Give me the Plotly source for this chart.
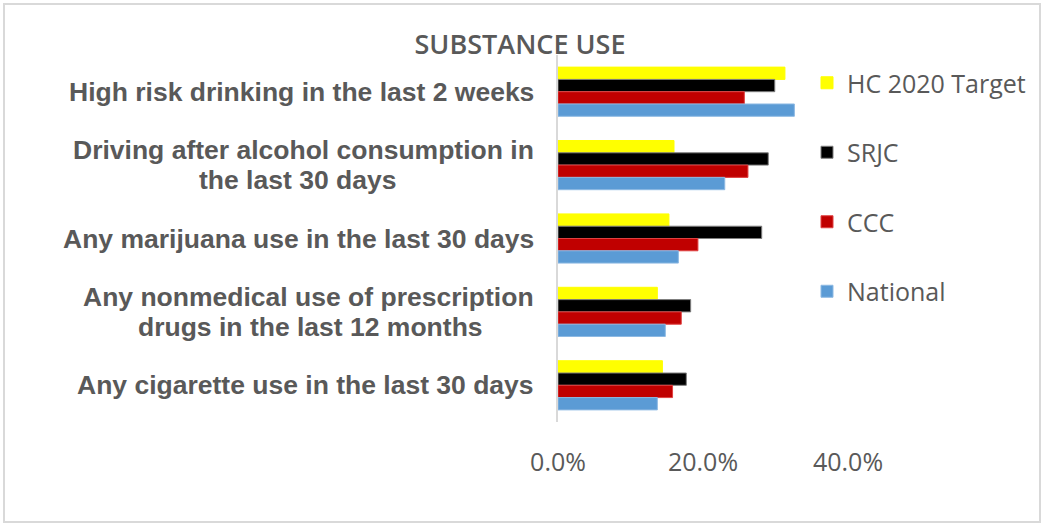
import plotly.graph_objects as go

# Survey categories, listed top to bottom
categories = [
    "High risk drinking in the last 2 weeks",
    "Driving after alcohol consumption in<br>the last 30 days",
    "Any marijuana use in the last 30 days",
    "Any nonmedical use of prescription<br>drugs in the last 12 months",
    "Any cigarette use in the last 30 days",
]

# Percent of students (as fractions)
hc2020_target = [0.313, 0.160, 0.153, 0.137, 0.144]
srjc = [0.299, 0.290, 0.281, 0.183, 0.177]
ccc = [0.257, 0.262, 0.193, 0.170, 0.158]
national = [0.326, 0.230, 0.166, 0.148, 0.137]

x_ticks = [0.0, 0.2, 0.4]
x_tick_labels = ["0.0%", "20.0%", "40.0%"]

series = [
    ("HC 2020 Target", hc2020_target, "#FFFF00", "#FFFF00"),
    ("SRJC", srjc, "#000000", "#7F7F7F"),
    ("CCC", ccc, "#C00000", "#E04040"),
    ("National", national, "#5B9BD5", "#8DB9E3"),
]

fig = go.Figure()
for name, vals, color, edge in series:
    fig.add_trace(go.Bar(
        y=categories, x=vals, name=name, orientation="h",
        marker=dict(color=color, line=dict(color=edge, width=1)),
        legendgroup=name,
    ))

gray = "#595959"
label_font = dict(family="Liberation Sans, Arial, sans-serif", size=26.5,
                  color=gray, weight="bold")
PLOT_LEFT, PLOT_W = 558, 290
LABEL_RIGHT = 536          # anchor for the right edge of category labels (px)
LINE_GAP = 30              # distance between lines of a wrapped label (px)
CHAR_W = 13.1              # average bold glyph width at this size (px)


def px_to_paper(px):
    return (px - PLOT_LEFT) / PLOT_W


# Category labels drawn as annotations so that wrapped lines are centered
# under each other and can use a tighter line spacing.
label_annotations = []
for c in categories:
    lines = c.split("<br>")
    n = len(lines)
    center = LABEL_RIGHT - 3 - CHAR_W * len(lines[0]) / 2
    for i, ln in enumerate(lines):
        label_annotations.append(dict(
            text=ln, xref="paper", yref="y",
            x=px_to_paper(LABEL_RIGHT) if i == 0 else px_to_paper(center),
            xanchor="right" if i == 0 else "center",
            y=c, yanchor="middle", yshift=LINE_GAP * ((n - 1) / 2 - i),
            showarrow=False, font=label_font))

fig.update_layout(
    width=1045, height=525,
    margin=dict(l=558, r=197, t=55, b=103),
    paper_bgcolor="white", plot_bgcolor="white",
    barmode="group", bargap=0.33, bargroupgap=0,
    title=dict(text="SUBSTANCE USE", x=520 / 1045, xanchor="center",
               y=1 - 45 / 525, yanchor="middle",
               font=dict(family="Open Sans, sans-serif", size=27,
                         color=gray, weight=600)),
    legend=dict(x=(807 - 558) / 290, xanchor="left", y=(422 - 60) / 367, yanchor="top",
                font=dict(family="Open Sans, sans-serif", size=25, color=gray),
                tracegroupgap=34, bgcolor="rgba(0,0,0,0)"),
    showlegend=True,
    xaxis=dict(range=[0, 0.4], tickvals=x_ticks, ticktext=x_tick_labels,
               showgrid=False, zeroline=False, showline=False,
               ticks="", ticklabelstandoff=23,
               tickfont=dict(family="Open Sans, sans-serif", size=25, color=gray)),
    yaxis=dict(autorange="reversed", showgrid=False, zeroline=False,
               showline=True, linecolor="#D9D9D9", linewidth=2,
               ticks="", showticklabels=False),
    annotations=label_annotations,
    shapes=[dict(type="rect", xref="paper", yref="paper",
                 x0=(4 - 558) / 290, x1=(1040 - 558) / 290,
                 y0=(422 - 522) / 367, y1=(422 - 4) / 367,
                 line=dict(color="#D9D9D9", width=2), layer="below")],
)

fig.write_html("out.html")
